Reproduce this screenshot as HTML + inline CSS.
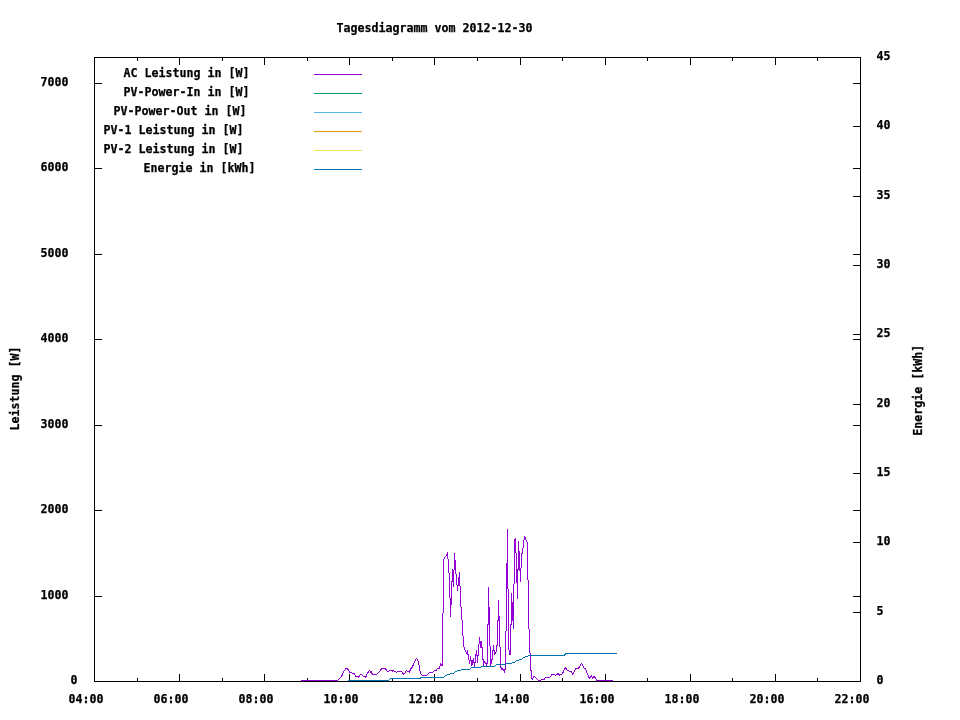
<!DOCTYPE html>
<html lang="de"><head><meta charset="utf-8"><title>Tagesdiagramm vom 2012-12-30</title>
<style>html,body{margin:0;padding:0;background:#fff;width:960px;height:720px;overflow:hidden}svg{display:block}text{font-family:"DejaVu Sans Mono","Liberation Mono",monospace;font-weight:bold;font-size:12.35px;fill:#000;stroke:#000;stroke-width:.25px}.ax{stroke:#000;stroke-width:1;fill:none;shape-rendering:crispEdges}.ln{fill:none;stroke-width:1;stroke-linejoin:round;shape-rendering:crispEdges}</style></head><body>
<svg width="960" height="720" viewBox="0 0 960 720">
<rect width="960" height="720" fill="#fff"/>
<path class="ax" d="M94.5 57.5H860.5V681.5H94.5ZM137.5 682V678M137.5 57V61M179.5 682V674M179.5 57V65M222.5 682V678M222.5 57V61M264.5 682V674M264.5 57V65M307.5 682V678M307.5 57V61M349.5 682V674M349.5 57V65M392.5 682V678M392.5 57V61M434.5 682V674M434.5 57V65M477.5 682V678M477.5 57V61M520.5 682V674M520.5 57V65M562.5 682V678M562.5 57V61M605.5 682V674M605.5 57V65M647.5 682V678M647.5 57V61M690.5 682V674M690.5 57V65M732.5 682V678M732.5 57V61M775.5 682V674M775.5 57V65M817.5 682V678M817.5 57V61M94 596.5H102M861 596.5H853M94 510.5H102M861 510.5H853M94 425.5H102M861 425.5H853M94 339.5H102M861 339.5H853M94 254.5H102M861 254.5H853M94 168.5H102M861 168.5H853M94 83.5H102M861 83.5H853M861 612.5H853M861 542.5H853M861 473.5H853M861 404.5H853M861 334.5H853M861 265.5H853M861 196.5H853M861 126.5H853"/>
<text x="68.6" y="702.5" textLength="35" lengthAdjust="spacingAndGlyphs">04:00</text>
<text x="153.6" y="702.5" textLength="35" lengthAdjust="spacingAndGlyphs">06:00</text>
<text x="238.6" y="702.5" textLength="35" lengthAdjust="spacingAndGlyphs">08:00</text>
<text x="323.6" y="702.5" textLength="35" lengthAdjust="spacingAndGlyphs">10:00</text>
<text x="408.6" y="702.5" textLength="35" lengthAdjust="spacingAndGlyphs">12:00</text>
<text x="494.6" y="702.5" textLength="35" lengthAdjust="spacingAndGlyphs">14:00</text>
<text x="579.6" y="702.5" textLength="35" lengthAdjust="spacingAndGlyphs">16:00</text>
<text x="664.6" y="702.5" textLength="35" lengthAdjust="spacingAndGlyphs">18:00</text>
<text x="749.6" y="702.5" textLength="35" lengthAdjust="spacingAndGlyphs">20:00</text>
<text x="834.6" y="702.5" textLength="35" lengthAdjust="spacingAndGlyphs">22:00</text>
<text x="70.6" y="683.5" textLength="7" lengthAdjust="spacingAndGlyphs">0</text>
<text x="40.6" y="598.5" textLength="28" lengthAdjust="spacingAndGlyphs">1000</text>
<text x="40.6" y="512.5" textLength="28" lengthAdjust="spacingAndGlyphs">2000</text>
<text x="40.6" y="427.5" textLength="28" lengthAdjust="spacingAndGlyphs">3000</text>
<text x="40.6" y="341.5" textLength="28" lengthAdjust="spacingAndGlyphs">4000</text>
<text x="40.6" y="256.5" textLength="28" lengthAdjust="spacingAndGlyphs">5000</text>
<text x="40.6" y="170.5" textLength="28" lengthAdjust="spacingAndGlyphs">6000</text>
<text x="40.6" y="85.5" textLength="28" lengthAdjust="spacingAndGlyphs">7000</text>
<text x="876.6" y="683.5" textLength="7" lengthAdjust="spacingAndGlyphs">0</text>
<text x="876.6" y="614.5" textLength="7" lengthAdjust="spacingAndGlyphs">5</text>
<text x="876.6" y="544.5" textLength="14" lengthAdjust="spacingAndGlyphs">10</text>
<text x="876.6" y="475.5" textLength="14" lengthAdjust="spacingAndGlyphs">15</text>
<text x="876.6" y="406.5" textLength="14" lengthAdjust="spacingAndGlyphs">20</text>
<text x="876.6" y="336.5" textLength="14" lengthAdjust="spacingAndGlyphs">25</text>
<text x="876.6" y="267.5" textLength="14" lengthAdjust="spacingAndGlyphs">30</text>
<text x="876.6" y="198.5" textLength="14" lengthAdjust="spacingAndGlyphs">35</text>
<text x="876.6" y="128.5" textLength="14" lengthAdjust="spacingAndGlyphs">40</text>
<text x="876.6" y="59.5" textLength="14" lengthAdjust="spacingAndGlyphs">45</text>
<text x="336.6" y="31.5" textLength="196" lengthAdjust="spacingAndGlyphs">Tagesdiagramm vom 2012-12-30</text>
<text transform="translate(19.3,430.4) rotate(-90)" textLength="84" lengthAdjust="spacingAndGlyphs">Leistung [W]</text>
<text transform="translate(921.5,435.7) rotate(-90)" textLength="91" lengthAdjust="spacingAndGlyphs">Energie [kWh]</text>
<text x="123.6" y="76.5" textLength="126" lengthAdjust="spacingAndGlyphs">AC Leistung in [W]</text>
<path class="ln" stroke="#9400d3" shape-rendering="crispEdges" d="M314 74.5H362"/>
<text x="123.6" y="95.5" textLength="126" lengthAdjust="spacingAndGlyphs">PV-Power-In in [W]</text>
<path class="ln" stroke="#009e73" shape-rendering="crispEdges" d="M314 93.5H362"/>
<text x="113.6" y="114.5" textLength="133" lengthAdjust="spacingAndGlyphs">PV-Power-Out in [W]</text>
<path class="ln" stroke="#56b4e9" shape-rendering="crispEdges" d="M314 112.5H362"/>
<text x="103.6" y="133.5" textLength="140" lengthAdjust="spacingAndGlyphs">PV-1 Leistung in [W]</text>
<path class="ln" stroke="#e69f00" shape-rendering="crispEdges" d="M314 131.5H362"/>
<text x="103.6" y="152.5" textLength="140" lengthAdjust="spacingAndGlyphs">PV-2 Leistung in [W]</text>
<path class="ln" stroke="#f0e442" shape-rendering="crispEdges" d="M314 150.5H362"/>
<text x="143.6" y="171.5" textLength="112" lengthAdjust="spacingAndGlyphs">Energie in [kWh]</text>
<path class="ln" stroke="#0072b2" shape-rendering="crispEdges" d="M314 169.5H362"/>
<polyline class="ln" stroke="#9400d3" points="301.0,680.5 337.67,680.5 341.83,675.83 344.33,670.67 346.0,668.58 347.5,668.58 349.75,672.08 351.42,672.5 352.67,673.75 354.33,673.33 355.58,676.25 357.25,676.25 358.5,677.33 360.17,674.58 361.42,674.17 363.5,676.25 365.58,677.33 367.67,672.92 369.33,670.42 371.42,672.08 372.67,674.58 369.33,670.42 371.42,671.67 372.67,675.0 376.42,674.58 382.25,668.33 384.75,668.33 387.67,671.42 390.17,670.42 392.25,670.58 392.83,671.42 393.5,670.42 396.42,672.5 397.67,671.25 401.42,671.25 403.5,674.17 404.75,673.33 406.42,670.58 407.67,671.42 409.33,672.25 410.58,669.17 412.25,667.08 415.17,660.83 416.42,658.33 417.67,659.58 418.92,665.0 420.17,671.67 421.42,674.58 422.67,675.58 426.42,675.58 429.75,672.5 432.67,672.5 434.75,670.58 436.0,670.42 437.67,668.5 439.33,668.33 440.58,663.75 441.83,665.42 442.5,665.83 442.5,666"/>
<path class="ln" stroke="#9400d3" d="M442.5 613V666M443.5 559V613M444.5 557V559M445.5 556V557M446.5 554V556M447.5 552V559M448.5 559V573M449.5 573V598M450.5 598V617M451.5 581V605M452.5 569V582M453.5 570V587M454.5 553V570M455.5 560V574M456.5 574V585M457.5 585V591M458.5 577V586M459.5 572V586M460.5 586V607M461.5 607V620M462.5 620V636M463.5 636V647M464.5 647V650M465.5 650V652M466.5 652V654M467.5 650V655M468.5 654V660M469.5 660V664M470.5 656V661M471.5 660V666M472.5 660V665M473.5 658V663M474.5 662V668M475.5 654V663M476.5 650V656M477.5 655V663M478.5 644V656M479.5 637V644M480.5 641V648M481.5 641V648M482.5 647V660M483.5 659V667M484.5 661V663M485.5 662V664M486.5 663V667M487.5 624V664M488.5 587V625M489.5 607V646M490.5 646V667M491.5 659V664M492.5 650V660M493.5 645V651M494.5 650V655M495.5 652V654M496.5 645V652M497.5 620V646M498.5 600V621M499.5 616V647M500.5 647V668M501.5 667V670M502.5 668V670M503.5 669V671M504.5 669V673M505.5 631V670M506.5 563V631M507.5 529V589M508.5 589V650M509.5 650V655M510.5 624V655M511.5 593V625M512.5 602V621M513.5 584V629M514.5 539V584M515.5 538V553M516.5 553V583M517.5 569V599M518.5 541V570M519.5 551V571M520.5 568V582M521.5 553V568M522.5 548V554M523.5 540V548M524.5 536V540M525.5 537V540M526.5 540V542M527.5 542V580M528.5 580V629M529.5 629V653M530.5 653V671M531.5 670V678"/>
<polyline class="ln" stroke="#9400d3" points="531.5,677 532.25,679.38 534.12,676.25 536.0,678.12 538.5,680.42 540.58,680.42 541.42,679.58 543.92,679.58 545.58,677.5 549.33,677.5 552.25,674.42 554.33,674.42 555.58,675.42 558.33,673.5 559.75,675.42 562.67,673.33 565.33,667.5 567.25,670.42 569.33,671.25 571.42,671.42 572.67,674.17 576.0,668.5 578.5,668.33 581.58,663.33 583.92,667.92 585.58,668.75 586.42,671.67 589.33,678.33 591.42,675.58 592.67,678.33 593.5,676.5 595.33,677.5 596.83,680.42 612.67,680.42"/>
<polyline class="ln" stroke="#0072b2" points="348,680.5 388.5,680.5 390.5,678.5 419.5,678.5 421.5,677.5 443.5,677.5 445.5,675.5 446.5,675.5 447.5,674.5 449.5,674.5 450.5,673.5 453.5,673.5 455.5,671.5 456.5,671.5 457.5,670.5 460.5,670.5 461.5,669.5 469.5,669.5 471.5,667.5 480.5,667.5 481.5,666.5 494.5,666.5 496.5,664.5 505.5,664.5 506.5,663.5 511.5,663.5 512.5,662.5 514.5,662.5 516.5,660.5 518.5,660.5 519.5,659.5 521.5,659.5 523.5,657.5 524.5,657.5 525.5,656.5 527.5,656.5 528.5,655.5 564.5,655.5 565.5,653.5 617,653.5"/>
</svg></body></html>
